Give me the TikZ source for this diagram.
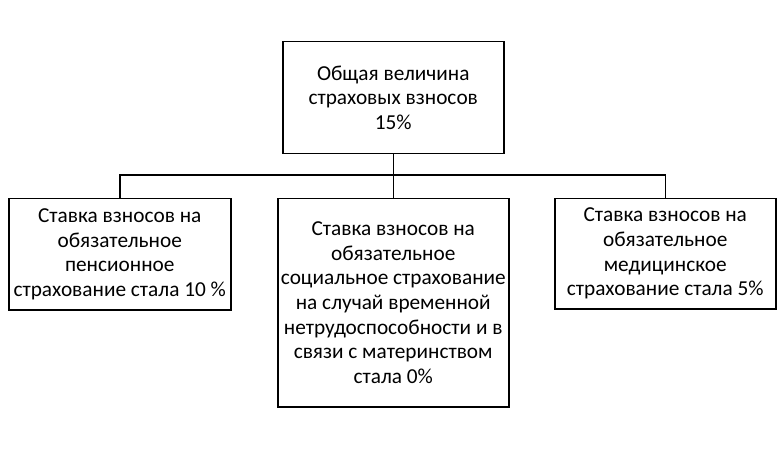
\documentclass[tikz,border=0pt]{standalone}
\usepackage{fontspec}
\setmainfont{Carlito}
\begin{document}
\begin{tikzpicture}[x=1pt,y=1pt,
  box/.style={draw=black, line width=1.5pt, inner sep=0pt, align=center,
    font=\fontsize{21.3}{24.7}\selectfont, anchor=north west},
  link/.style={draw=black, line width=1.5pt}]
\useasboundingbox[fill=white] (0,0) rectangle (777,448);
\node[box, minimum width=221pt, minimum height=112pt] (top) at (282,407)
  {Общая величина\\страховых взносов\\15\%};
\node[box, minimum width=222pt, minimum height=111pt] (left) at (8,250)
  {Ставка взносов на\\обязательное\\пенсионное\\страхование стала 10 \%};
\node[box, minimum width=231pt, minimum height=208pt] (mid) at (277,250)
  {Ставка взносов на\\обязательное\\социальное страхование\\на случай временной\\нетрудоспособности и в\\связи с материнством\\стала 0\%};
\node[box, minimum width=221pt, minimum height=110pt] (right) at (554,250)
  {Ставка взносов на\\обязательное\\медицинское\\страхование стала 5\%};
\coordinate (bus) at (0,273);
\draw[link] (top.south) -- (top.south |- bus);
\draw[link] (left.north) -- (left.north |- bus) -- (right.north |- bus) -- (right.north);
\draw[link] (mid.north) -- (mid.north |- bus);
\end{tikzpicture}
\end{document}
